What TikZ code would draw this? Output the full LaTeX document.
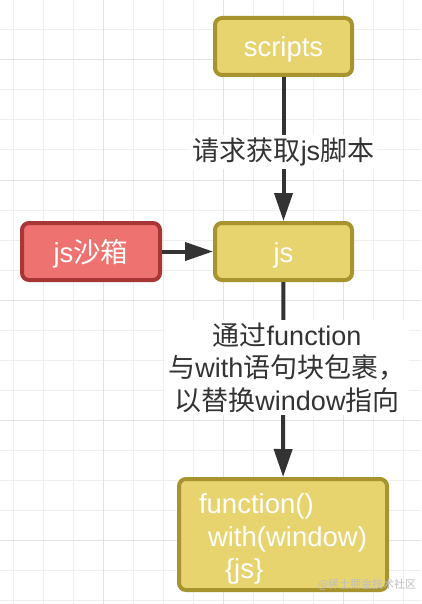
\documentclass[tikz,border=0pt]{standalone}
\usepackage{fontspec}
\setmainfont{Liberation Sans}
\newfontfamily\cjk{Noto Sans CJK SC}
\usetikzlibrary{arrows.meta}
\definecolor{yfill}{HTML}{E8D46E}
\definecolor{ystroke}{HTML}{A8942F}
\definecolor{rfill}{HTML}{EE7370}
\definecolor{rstroke}{HTML}{A83636}
\definecolor{arrowc}{HTML}{333333}
\definecolor{labelc}{HTML}{333333}
\definecolor{gridminor}{HTML}{EFEFEF}
\definecolor{gridmajor}{HTML}{E2E2E2}
\begin{document}
\begin{tikzpicture}[x=1pt,y=-1pt,
  box/.style={draw=ystroke, fill=yfill, line width=4pt, rounded corners=7pt,
    text=white, font=\fontsize{27.5}{32.5}\selectfont, inner sep=0pt},
  onebox/.style={box, text height=21pt, text depth=0pt},
  redbox/.style={onebox, draw=rstroke, fill=rfill},
  conn/.style={draw=arrowc, line width=4pt, -{Triangle[length=28pt,width=18pt]}},
  lbl/.style={fill=white, text=labelc, font=\fontsize{27}{32.5}\selectfont,
    inner sep=3pt, align=center},
  gminor/.style={draw=gridminor, line width=1pt},
  gmajor/.style={draw=gridmajor, line width=1pt}]
\useasboundingbox (0,0) rectangle (421,604);
\fill[white] (0,0) rectangle (421,604);
% grid
\foreach \x in {13.33,43.33,...,420} \draw[gminor] (\x,0) -- (\x,604);
\foreach \y in {0,30,...,604} \draw[gminor] (0,\y) -- (421,\y);
\foreach \x in {103.33,223.33,343.33} \draw[gmajor] (\x,0) -- (\x,604);
\foreach \y in {60,180,300,420,540} \draw[gmajor] (0,\y) -- (421,\y);
% nodes
\node[onebox, minimum width=137pt, minimum height=57pt] (scripts) at (283.5,46.5) {scripts};
\node[onebox, minimum width=137pt, minimum height=57pt] (js) at (283.5,251.5) {js};
\node[redbox, minimum width=138pt, minimum height=57pt] (sandbox) at (91,251.5) {js{\cjk 沙箱}};
\node[box, minimum width=208pt, minimum height=111pt] (fn) at (283,534.5) {};
\node[text=white, font=\fontsize{27.5}{32.5}\selectfont, inner sep=0pt, align=left] (fntext) at (283,539)
  {function()\\\hspace*{9pt}with(window)\\\hspace*{26pt}\{js\}};
% connectors
\draw[conn] (scripts) -- (js)
  node[lbl, pos=0.52] (l1) {{\cjk 请求获取}js{\cjk 脚本}};
\draw[conn] (sandbox) -- (js);
\draw[conn] (js) -- (fn);
\node[lbl] (l2) at (287,367.5)
  {{\cjk 通过}function\\{\cjk 与}with{\cjk 语句块包裹，}\\{\cjk 以替换}window{\cjk 指向}};
% watermark
\node[text=black!25, font=\cjk\fontsize{11}{13}\selectfont, inner sep=0pt] (wm) at (367,585) {@稀土掘金技术社区};
\end{tikzpicture}
\end{document}
